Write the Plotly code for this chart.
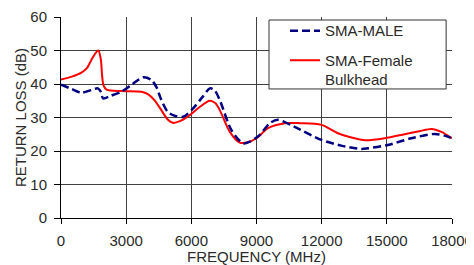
import plotly.graph_objects as go

# SMA-Female Bulkhead (red, solid)
freq_female = [0, 500, 940, 1200, 1400, 1600, 1720, 1830, 1900, 1960, 2100, 2800, 3700, 4000,
               4300, 4620, 4900, 5160, 5500, 5925, 6400, 6850, 7100, 7310, 7770, 8230, 8600,
               9000, 9530, 10300, 11000, 11990, 12750, 13520, 14000, 14900, 15820, 16500,
               17050, 17510, 18000]
rl_female = [41.3, 42.2, 43.4, 44.8, 47.2, 49.3, 50.0, 47.5, 42.0, 39.5, 38.3, 37.9, 37.7, 37.0,
             35.2, 32.2, 29.5, 28.4, 29.0, 30.7, 33.2, 35.0, 34.3, 32.2, 25.7, 22.5, 22.6,
             23.8, 26.8, 28.3, 28.3, 27.8, 25.3, 23.8, 23.2, 23.8, 25.0, 25.9,
             26.6, 25.7, 23.8]

# SMA-MALE (navy, dashed)
freq_male = [0, 500, 940, 1400, 1700, 1850, 1935, 2300, 2780, 3300, 3780, 4160, 4400, 4600,
             4900, 5160, 5620, 6080, 6500, 6850, 7050, 7310, 7840, 8380, 8700, 9150, 9610,
             9990, 10760, 11990, 12900, 13830, 14130, 15050, 16130, 17200, 17660, 18000]
rl_male = [39.8, 38.5, 37.4, 38.2, 38.7, 37.5, 35.7, 36.5, 37.7, 40.0, 42.0, 41.2, 39.0, 35.5,
           31.8, 30.7, 30.2, 32.7, 36.0, 38.7, 38.3, 35.2, 26.3, 22.3, 22.8, 24.8, 28.3,
           29.3, 27.2, 23.3, 21.6, 20.6, 20.8, 21.8, 23.8, 25.1, 24.6, 23.8]

x_ticks = [0, 3000, 6000, 9000, 12000, 15000, 18000]
y_ticks = [0, 10, 20, 30, 40, 50, 60]

FONT = "Liberation Sans, Arial, sans-serif"
TEXT = "#2a2a2a"

fig = go.Figure()
fig.add_trace(go.Scatter(
    x=freq_female, y=rl_female, mode="lines", name="SMA-Female<br>Bulkhead",
    line=dict(color="#FF0000", width=2, shape="spline", smoothing=0.8),
    legendrank=2, legendgroup="f"))
fig.add_trace(go.Scatter(
    x=freq_male, y=rl_male, mode="lines", name="SMA-MALE",
    line=dict(color="#000080", width=2.5, dash="8px,4px", shape="spline", smoothing=0.8),
    legendrank=1, legendgroup="m"))

# legend frame (white box with dark border), drawn above the traces; legend text sits on top
fig.add_shape(type="rect", xref="paper", yref="paper",
              x0=0.532, x1=0.985, y0=0.642, y1=0.985,
              fillcolor="white", line=dict(color="#333333", width=1), layer="above")

fig.update_layout(
    width=466, height=257,
    margin=dict(l=53, r=22, t=9, b=47, autoexpand=False),
    paper_bgcolor="white", plot_bgcolor="white",
    font=dict(family=FONT, size=15, color=TEXT),
    showlegend=True,
    legend=dict(
        x=0.532, y=1.013, xanchor="left", yanchor="top",
        bgcolor="rgba(0,0,0,0)", borderwidth=0,
        font=dict(family=FONT, size=15, color=TEXT),
        traceorder="grouped", tracegroupgap=7, valign="top",
        indentation=16, itemwidth=30,
    ),
    xaxis=dict(
        range=[0, 18000], tickvals=x_ticks, ticktext=[str(v) for v in x_ticks],
        showgrid=True, gridcolor="#404040", gridwidth=1,
        showline=True, linecolor="#000000", linewidth=1,
        ticks="outside", ticklen=5, tickcolor="#000000", ticklabelstandoff=4,
        zeroline=False, automargin=False,
        title=dict(text="FREQUENCY (MHz)", standoff=3, font=dict(size=15)),
    ),
    yaxis=dict(
        range=[0, 60], tickvals=y_ticks, ticktext=[str(v) for v in y_ticks],
        showgrid=True, gridcolor="#404040", gridwidth=1,
        showline=True, linecolor="#000000", linewidth=1,
        ticks="outside", ticklen=6, tickcolor="#000000", ticklabelstandoff=4,
        zeroline=False, automargin=False,
        title=dict(text="RETURN LOSS (dB)", standoff=0, font=dict(size=15)),
    ),
)

fig.write_html("out.html")
